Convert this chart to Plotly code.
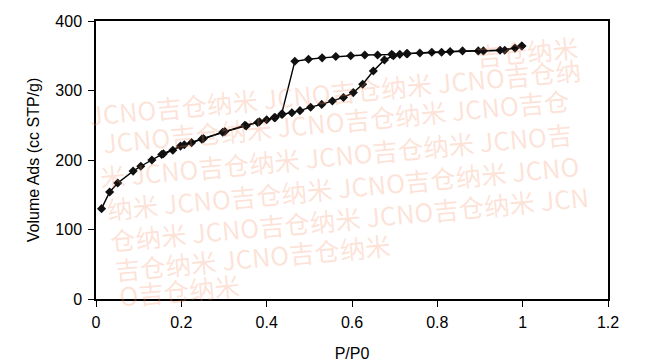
import plotly.graph_objects as go

# Adsorption branch
ads_p = [0.013, 0.032, 0.051, 0.087, 0.105, 0.131, 0.154, 0.180, 0.198, 0.224, 0.248,
         0.302, 0.349, 0.379, 0.400, 0.420, 0.437, 0.459, 0.478, 0.503, 0.529, 0.554,
         0.580, 0.603, 0.625, 0.650, 0.676, 0.697, 0.728, 0.787, 0.830, 0.896, 0.947,
         0.982, 0.998]
ads_v = [130, 154, 167, 184, 191, 200, 208, 214, 220, 225, 230,
         241, 250, 254, 258, 261, 266, 268, 271, 276, 280, 285,
         290, 297, 309, 328, 344, 350, 353, 355, 356, 357, 358,
         361, 364]

# Desorption branch
des_p = [0.998, 0.958, 0.908, 0.859, 0.810, 0.759, 0.730, 0.712, 0.693, 0.660, 0.630,
         0.597, 0.562, 0.530, 0.498, 0.466, 0.435, 0.418, 0.383, 0.352, 0.297, 0.252,
         0.207, 0.158]
des_v = [364, 358, 357, 357, 355, 354, 353, 352, 352, 351, 351,
         350, 349, 347, 345, 342, 266, 261, 255, 249, 240, 231,
         222, 209]

x_ticks = [0, 0.2, 0.4, 0.6, 0.8, 1, 1.2]
x_tick_labels = ["0", "0.2", "0.4", "0.6", "0.8", "1", "1.2"]
y_ticks = [0, 100, 200, 300, 400]
y_tick_labels = ["0", "100", "200", "300", "400"]

# Watermark rows (text, page-pixel anchor x, y, anchor mode)
wm_text = [
    "吉仓纳米",
    "JCNO吉仓纳米 JCNO吉仓纳米 JCNO吉仓纳",
    "JCNO吉仓纳米 JCNO吉仓纳米 JCNO吉仓",
    "米 JCNO吉仓纳米 JCNO吉仓纳米 JCNO吉",
    "纳米 JCNO吉仓纳米 JCNO吉仓纳米 JCNO",
    "仓纳米 JCNO吉仓纳米 JCNO吉仓纳米 JCN",
    "吉仓纳米 JCNO吉仓纳米",
    "O吉仓纳米",
]
wm_px = [582, 85, 99, 96, 103, 106, 111, 115]
wm_py = [25, 135, 163, 197, 229, 260, 290, 316]
wm_mode = ["tr", "bl", "bl", "bl", "bl", "bl", "bl", "bl"]

OFF = 8  # page body margin
W, H = 656 - OFF, 364 - OFF
L, R, T, B = 96 - OFF, 48, 21 - OFF, 65
pw, ph = W - L - R, H - T - B

fig = go.Figure()
line_style = dict(color="black", width=1.4)
marker_style = dict(symbol="diamond", size=7, color="#111111")
fig.add_trace(go.Scatter(x=ads_p, y=ads_v, mode="lines+markers",
                         line=line_style, marker=marker_style, showlegend=False))
fig.add_trace(go.Scatter(x=des_p, y=des_v, mode="lines+markers",
                         line=line_style, marker=marker_style, showlegend=False))

annotations = []
for txt, px, py, mode in zip(wm_text, wm_px, wm_py, wm_mode):
    fx, fy = px - OFF, py - OFF
    annotations.append(dict(
        text=txt, xref="paper", yref="paper",
        x=(fx - L) / pw, y=(H - B - fy) / ph,
        xanchor="right" if mode == "tr" else "left",
        yanchor="top" if mode == "tr" else "bottom",
        showarrow=False, textangle=-5.3,
        font=dict(family="Noto Sans CJK SC", size=25.5, color="rgba(248,140,100,0.25)"),
    ))

axis_font = dict(family="Liberation Sans, Arial", size=16, color="black")
fig.update_layout(
    width=W, height=H,
    margin=dict(l=L, r=R, t=T, b=B, autoexpand=False),
    paper_bgcolor="white", plot_bgcolor="white",
    font=axis_font,
    annotations=annotations,
    xaxis=dict(range=[0, 1.2], tickvals=x_ticks, ticktext=x_tick_labels,
               showline=True, linecolor="black", linewidth=1.5, mirror=True,
               ticks="outside", ticklen=6, tickwidth=1.2, tickcolor="black",
               ticklabelstandoff=2, automargin=False,
               showgrid=False, zeroline=False, tickfont=axis_font,
               title=dict(text="P/P0", font=axis_font, standoff=18)),
    yaxis=dict(range=[0, 400], tickvals=y_ticks, ticktext=y_tick_labels,
               showline=True, linecolor="black", linewidth=1.5, mirror=True,
               ticks="outside", ticklen=6, tickwidth=1.2, tickcolor="black",
               ticklabelstandoff=3, automargin=False,
               showgrid=False, zeroline=False, tickfont=axis_font,
               title=dict(text="Volume Ads (cc STP/g)", font=axis_font, standoff=12)),
)

fig.write_html("out.html")
